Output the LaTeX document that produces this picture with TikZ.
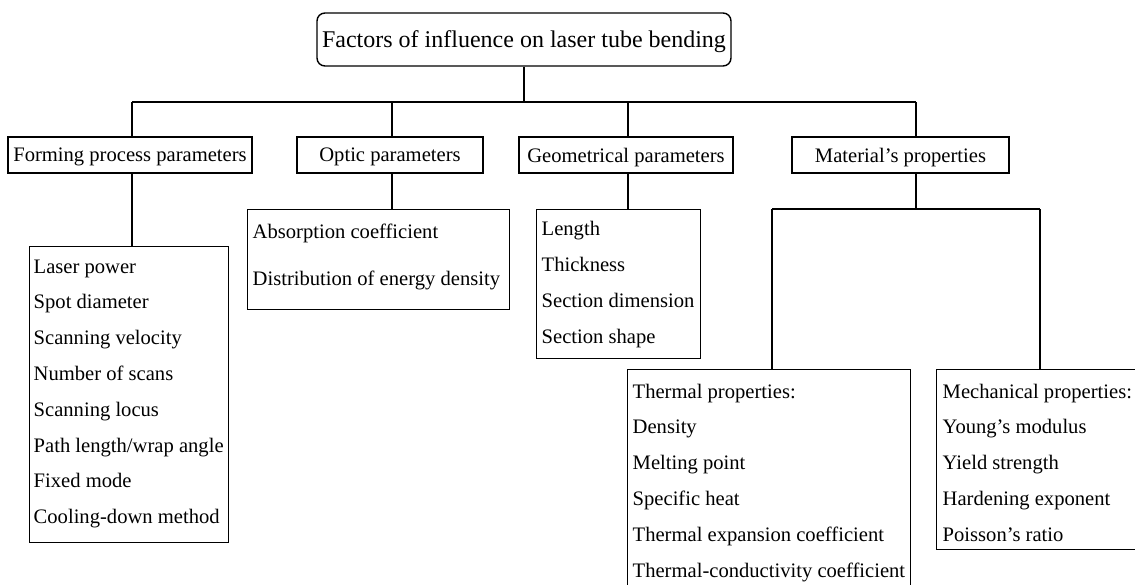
\documentclass[tikz,border=0pt]{standalone}
\usepackage{fontspec}
\setmainfont{Liberation Serif}
\begin{document}
\begin{tikzpicture}[x=0.5pt,y=-0.5pt,
  line width=0.7pt,
  titlebox/.style={draw, rounded corners=4pt, inner sep=0pt, text depth=0pt, minimum width=207pt, minimum height=26.5pt, font=\fontsize{12}{14}\selectfont},
  catbox/.style={draw, inner sep=0pt, text depth=0pt, minimum height=18pt, font=\fontsize{10.3}{12}\selectfont},
  listbox/.style={draw, inner sep=0pt, anchor=north west},
  listtext/.style={inner sep=0pt, anchor=north west, align=left, font=\fontsize{10.3}{17.9}\selectfont},
  wire/.style={draw, line cap=rect}
]
\useasboundingbox (0,0) rectangle (1135,584);

% title
\node[titlebox] (title) at (524,39.5) {Factors of influence on laser tube bending};

% category boxes
\node[catbox, minimum width=122pt]   (fpp) at (130,155)   {Forming process parameters};
\node[catbox, minimum width=93pt]    (opp) at (390,155)   {Optic parameters};
\node[catbox, minimum width=107pt]   (gpp) at (626,155)   {Geometrical parameters};
\node[catbox, minimum width=108.5pt] (mpp) at (900.5,155) {Material’s properties};

% list boxes
\node[listbox, minimum width=99.5pt, minimum height=148pt]  (fpl) at (29,246)  {};
\node[listbox, minimum width=131pt,  minimum height=50pt]   (opl) at (247,209) {};
\node[listbox, minimum width=82pt,   minimum height=74.5pt] (gpl) at (536,209) {};
\node[listbox, minimum width=141.5pt,minimum height=120pt]  (tpl) at (627,369) {};
\node[listbox, minimum width=110pt,  minimum height=90pt]   (mpl) at (936,369) {};

% list texts
\node[listtext] (fpt) at (33,259) {Laser power\\Spot diameter\\Scanning velocity\\Number of scans\\Scanning locus\\Path length/wrap angle\\Fixed mode\\Cooling-down method};
\node[listtext] (opt) at (252,223) {Absorption coefficient\\[5.6pt]Distribution of energy density};
\node[listtext] (gpt) at (541,221) {Length\\Thickness\\Section dimension\\Section shape};
\node[listtext] (tpt) at (632,383) {Thermal properties:\\Density\\Melting point\\Specific heat\\Thermal expansion coefficient\\Thermal-conductivity coefficient};
\node[listtext] (mpt) at (942,383) {Mechanical properties:\\Young’s modulus\\Yield strength\\Hardening exponent\\Poisson’s ratio};

% connector coordinates
\coordinate (busL) at (132,102);
\coordinate (busR) at (916,102);
\coordinate (cO) at (392,102);
\coordinate (cG) at (628,102);
\coordinate (sbL) at (772,209);
\coordinate (sbR) at (1040,209);

% connectors
\draw (title.south) -- (title.south |- busL);
\draw (busL) -- (busR);
\draw (busL) -- (busL |- fpp.north);
\draw (cO) -- (cO |- opp.north);
\draw (cG) -- (cG |- gpp.north);
\draw (busR) -- (busR |- mpp.north);
\draw (fpp.south -| busL) -- (fpl.north -| busL);
\draw (opp.south -| cO) -- (opl.north -| cO);
\draw (gpp.south -| cG) -- (gpl.north -| cG);
\draw (mpp.south -| busR) -- (busR |- sbL);
\draw (sbL) -- (sbR);
\draw (sbL) -- (sbL |- tpl.north);
\draw (sbR) -- (sbR |- mpl.north);
\end{tikzpicture}
\end{document}
